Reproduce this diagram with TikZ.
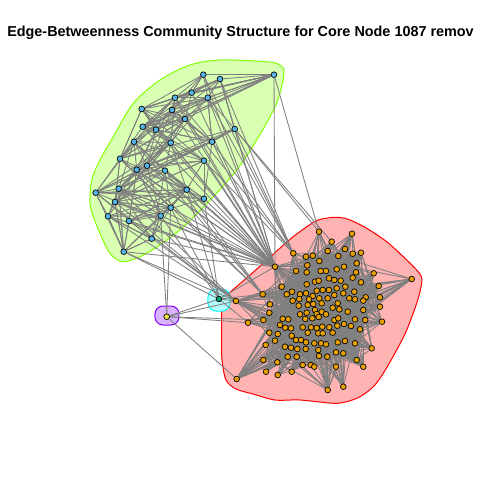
\documentclass[tikz,border=0pt]{standalone}
\usepackage{fontspec}
\setsansfont{Liberation Sans}
\usetikzlibrary{backgrounds}

% Capas: envolturas al fondo, aristas en medio, vértices encima
\pgfdeclarelayer{hulls}
\pgfdeclarelayer{edges}
\pgfsetlayers{hulls,edges,main}

\definecolor{azul_v}{RGB}{86,180,233}
\definecolor{naranja_v}{RGB}{230,159,0}
\definecolor{verde_v}{RGB}{0,158,115}
\definecolor{amarillo_v}{RGB}{240,228,66}
\definecolor{gris_a}{RGB}{128,128,128}
\definecolor{rojo_b}{RGB}{255,0,0}
\definecolor{rojo_f}{RGB}{255,179,179}
\definecolor{lima_b}{RGB}{128,255,0}
\definecolor{lima_f}{RGB}{217,255,179}
\definecolor{cian_b}{RGB}{0,255,255}
\definecolor{cian_f}{RGB}{179,255,255}
\definecolor{morado_b}{RGB}{128,0,255}
\definecolor{morado_f}{RGB}{217,179,255}

\begin{document}
\begin{tikzpicture}[
		% Unidades en píxeles, eje y hacia abajo
		x=0.75pt, y=-0.75pt,
		% Estilos de vértices por comunidad
		vert/.style={circle, draw=black, line width=0.5pt, minimum size=4.3pt, inner sep=0pt},
		v_azul/.style={vert, fill=azul_v},
		v_naranja/.style={vert, fill=naranja_v},
		v_verde/.style={vert, fill=verde_v},
		v_amarillo/.style={vert, fill=amarillo_v},
		% Estilo de aristas
		arista/.style={draw=gris_a, line width=0.65pt},
		% Estilo de envolturas de comunidad
		hull_rojo/.style={draw=rojo_b, fill=rojo_f, line width=0.75pt},
		hull_lima/.style={draw=lima_b, fill=lima_f, line width=0.75pt},
		hull_cian/.style={draw=cian_b, fill=cian_f, line width=0.75pt, rounded corners=6pt},
		hull_morado/.style={draw=morado_b, fill=morado_f, line width=0.75pt, rounded corners=6pt},
		titulo_est/.style={font=\sffamily\bfseries\fontsize{10.8}{13}\selectfont, inner sep=0pt}
		]
		
		\useasboundingbox (0,0) rectangle (480,480);
		
		% --- TITULO (recortado en el borde derecho) ---
		\begin{scope}
			\clip (0,0) rectangle (480,480);
			\node[titulo_est, anchor=base west] (titulo) at (7,36) {Edge-Betweenness Community Structure for Core Node 1087 remov};
		\end{scope}
		
		% --- COMUNIDAD AZUL (superior izquierda) ---
		\foreach \x/\y [count=\i] in {203.3/74.7, 274/74.7, 220/79, 191.7/92.7, 175/97.7, 207.7/97.7,
			141.7/109, 172/110, 185/119, 142.7/126.7, 234.7/129, 156/129.7, 134/141.7, 212/141.7,
			170.7/142.7, 120/158.7, 204/160.7, 147/165.7, 136.7/169.7, 165/170.7, 118.7/188.7,
			186.7/189.7, 95.7/192.7, 204/198.7, 115/202, 170.7/207.7, 160.7/215.7, 108/216.3,
			129/221, 151.7/238.7, 123.7/251.7}
			\node[v_azul] (g\i) at (\x,\y) {};
		
		% --- COMUNIDAD NARANJA (núcleo primero, periferia después) ---
		\foreach \x/\y [count=\i] in {327.7/251, 352.7/253.7, 361/252.7, 306/256.7, 312.7/255.7,
			338.3/256, 319.3/261, 307.3/265.3, 356.7/263.3, 296/271, 320.7/271, 326/271, 336.7/269.3,
			344/266.7, 356/272.3, 306.7/272.3, 329/278.3, 334.3/280, 340.7/280.7, 352.7/277.7,
			315/281.7, 318.7/280.7, 306.7/284.3, 361/282.3, 281.7/286.7, 292/291.7, 322.7/290,
			316.7/290.7, 329/290, 336.7/288.3, 345.3/286.7, 354.3/291.7, 286.7/294.3, 300/294.3,
			306/293.3, 312.7/296, 334.3/295, 343.3/293.3, 365.7/297.3, 292.7/300.7, 299.3/299,
			309/299.3, 319.3/298.3, 327.7/298.3, 349.3/298.3, 355/299.3, 298.7/305.7, 307.7/305,
			313.3/304, 321.7/303.3, 337.7/303.3, 363.3/300.7, 332.7/307.7, 339.3/309.3, 347.7/311.7,
			363.3/310, 300/314.3, 306.7/312.7, 315/310, 316.7/314, 321.7/311.7, 326/314.3,
			282.7/318.7, 288.3/319.3, 305.3/319, 312.3/318.3, 318.7/317, 334.3/320, 338.3/318.3,
			355/319.3, 365.3/320, 280/325, 285.3/327.7, 291/328.3, 302.7/327.3, 311/327.3,
			316.7/328, 322.3/326.7, 329.3/327.3, 337.3/325.7, 344/324, 351/326, 360/329.3,
			277.7/334, 291.7/335.7, 307.7/332.7, 318.3/333.3, 322.7/333.3, 332.7/332.7, 296/340,
			301/340, 306/342.3, 314.3/343.3, 321/343.3, 326/344.3, 337.7/342.3, 345/341, 355/343.3,
			275/340.7, 285/346.7, 291/347.7, 297.3/349, 305.7/349, 318.3/350, 336/352.3, 356.7/360,
			287.7/356.7, 296.7/356.7, 319/356, 327.3/356.7, 343.3/353.3, 277.3/362.3,
			% periferia (113-144)
			319/231.7, 352/233.7, 331.7/241.7, 345/249, 293.3/253.3, 373.7/273.3, 411.7/279,
			378.7/286, 380/297.3, 380/306.7, 382/321.7, 371.7/348.3, 262.7/294.3, 236/301,
			270/304.3, 269.3/312.7, 263.3/320, 248/322.7, 269.3/332.7, 265.7/345, 263.3/360,
			266/371.7, 277.7/375, 291.7/371.7, 302.7/365, 310.7/365, 314.3/366.7, 336/366.7,
			363.3/366.7, 236.7/379, 327.7/390, 343.3/386.7}
			\node[v_naranja] (r\i) at (\x,\y) {};
		% Nodo puente hacia la comunidad azul
		\node[v_naranja] (hub) at (275,266.7) {};
		
		% --- COMUNIDADES DE UN SOLO VERTICE ---
		\node[v_verde] (c1) at (219,299) {};
		\node[v_amarillo] (y1) at (166.7,316.7) {};
		
		% --- ENVOLTURAS ---
		\begin{pgfonlayer}{hulls}
			\draw[hull_lima] plot[smooth cycle, tension=0.5] coordinates {(220,60) (266.7,61.7) (280,65)
				(284,73.3) (276.7,103.3) (256.7,140) (236.7,170) (213.3,196.7) (180,230) (146.7,253.3)
				(123.3,261.7) (110,253.3) (100,233.3) (93.3,216.7) (90,203) (91.7,180) (100,160)
				(113.3,136.7) (133.3,103.3) (160,80) (190,65)};
			\draw[hull_rojo] plot[smooth cycle, tension=0.5] coordinates {(228,294) (258,268) (288,241)
				(305,228) (318,220) (335,217.3) (348.3,219.3) (366.7,228.3) (386.7,241.7) (403.3,256.7)
				(416.7,270) (421.7,277.5) (421,287) (416.7,303.3) (406.7,330) (396.7,350) (383.3,373.3)
				(373.3,386.7) (360,396.7) (346.7,401.7) (333.3,403.3) (300,400) (275,400) (253,394)
				(236,389) (226,380) (222,360) (221.7,343.3) (221.7,310) (223.3,298)};
			\draw[hull_cian] (208,289) rectangle (230,311);
			\draw[hull_morado] (155,306) rectangle (179,325);
		\end{pgfonlayer}
		
		% --- ARISTAS ---
		\begin{pgfonlayer}{edges}
			\pgfmathsetseed{1087}
			% 1. Dentro de la comunidad azul (vecinos cercanos en la lista)
			\foreach \k in {1,...,270}{
				\pgfmathtruncatemacro{\ea}{random(1,31)}
				\pgfmathtruncatemacro{\eb}{\ea+random(1,10)}
				\ifnum\eb<32 \draw[arista] (g\ea) -- (g\eb);\fi
			}
			% 2. Dentro de la comunidad naranja (todo contra el núcleo)
			\foreach \k in {1,...,2600}{
				\pgfmathtruncatemacro{\ea}{random(1,144)}
				\pgfmathtruncatemacro{\eb}{random(1,112)}
				\ifnum\ea=\eb\else\draw[arista] (r\ea) -- (r\eb);\fi
			}
			\foreach \k in {1,...,30}{
				\pgfmathtruncatemacro{\eb}{random(1,112)}
				\draw[arista] (hub) -- (r\eb);
			}
			% 3. Puente azul -> naranja
			\foreach \i in {1,...,31}
				\draw[arista] (g\i) -- (hub);
			\foreach \i in {1,3,6,11,14,17,9}
				\draw[arista] (g\i) -- (r117);
			\foreach \i in {13,16,19,22,20}
				\draw[arista] (g\i) -- (r125);
			\foreach \i in {21,23,25,28,29,31}
				\draw[arista] (g\i) -- (r126);
			\draw[arista] (g11) -- (r113);
			\draw[arista] (g11) -- (r115);
			\draw[arista] (g2) -- (r113);
			% 4. Vértices aislados
			\foreach \j in {g31, g27, g26, g22, g24, hub, r126, r130, r125, y1}
				\draw[arista] (c1) -- (\j);
			\foreach \j in {g27, g26, r126, r130, r129, r142}
				\draw[arista] (y1) -- (\j);
		\end{pgfonlayer}
		
	\end{tikzpicture}
\end{document}
